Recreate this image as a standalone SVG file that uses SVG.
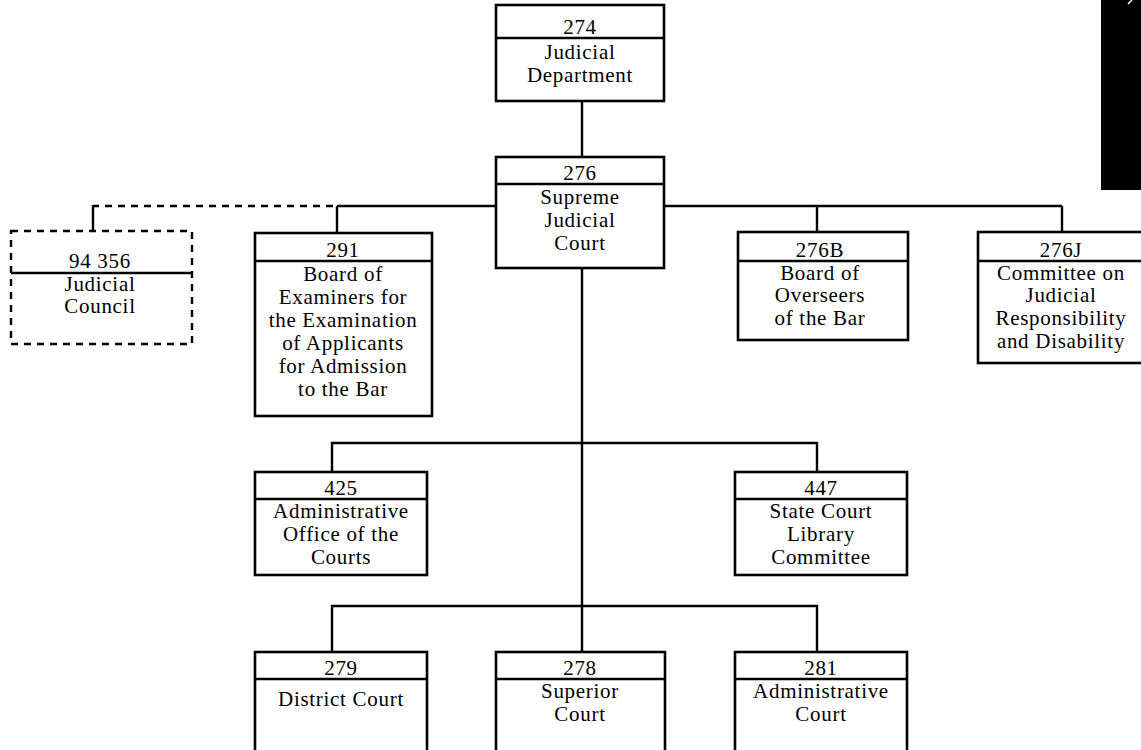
<svg xmlns="http://www.w3.org/2000/svg" width="1141" height="750" viewBox="0 0 1141 750">
<style>
.box{fill:#fff;stroke:#000;stroke-width:2.6}
.dbox{fill:#fff;stroke:#000;stroke-width:2.4;stroke-dasharray:7 6}
.hd{stroke:#000;stroke-width:2.6}
.ln{fill:none;stroke:#000;stroke-width:2.4}
.dl{fill:none;stroke:#000;stroke-width:2.4;stroke-dasharray:7 6}
text{font-family:"Liberation Serif","Times New Roman",serif;font-size:21px;fill:#000;text-anchor:middle;letter-spacing:0.7px}
</style>
<rect width="1141" height="750" fill="#fff"/>
<rect x="1101" y="0" width="40" height="190" fill="#000"/>
<line x1="1128" y1="4" x2="1132" y2="0" stroke="#fff" stroke-width="1.5"/>
<g id="connectors">
<line class="ln" x1="582" y1="101" x2="582" y2="157"/>
<line class="ln" x1="337" y1="206" x2="1062" y2="206"/>
<line class="ln" x1="337" y1="206" x2="337" y2="233"/>
<path class="dl" d="M333 206 H93"/>
<line class="ln" x1="93" y1="205" x2="93" y2="231"/>
<line class="ln" x1="817" y1="206" x2="817" y2="232"/>
<line class="ln" x1="1062" y1="206" x2="1062" y2="232"/>
<line class="ln" x1="582" y1="268" x2="582" y2="652"/>
<path class="ln" d="M332 472 V443 H817 V472"/>
<path class="ln" d="M332 652 V606 H817 V652"/>
</g>
<g id="n274">
<rect class="box" x="496" y="5" width="168" height="96"/>
<line class="hd" x1="496" y1="38" x2="664" y2="38"/>
<text x="580" y="34">274</text>
<text x="580" y="59">Judicial</text>
<text x="580" y="82">Department</text>
</g>
<g id="n276">
<rect class="box" x="496" y="157" width="168" height="111"/>
<line class="hd" x1="496" y1="184" x2="664" y2="184"/>
<text x="580" y="180">276</text>
<text x="580" y="204">Supreme</text>
<text x="580" y="227">Judicial</text>
<text x="580" y="250">Court</text>
</g>
<g id="n94356">
<rect class="dbox" x="11" y="231" width="181" height="113"/>
<line class="hd" x1="11" y1="273" x2="192" y2="273"/>
<text x="100" y="268">94 356</text>
<text x="100" y="291">Judicial</text>
<text x="100" y="313">Council</text>
</g>
<g id="n291">
<rect class="box" x="255" y="233" width="177" height="183"/>
<line class="hd" x1="255" y1="261" x2="432" y2="261"/>
<text x="343" y="257">291</text>
<text x="343" y="281">Board of</text>
<text x="343" y="304">Examiners for</text>
<text x="343" y="327">the Examination</text>
<text x="343" y="350">of Applicants</text>
<text x="343" y="373">for Admission</text>
<text x="343" y="396">to the Bar</text>
</g>
<g id="n276B">
<rect class="box" x="738" y="232" width="170" height="108"/>
<line class="hd" x1="738" y1="261" x2="908" y2="261"/>
<text x="820" y="257">276B</text>
<text x="820" y="280">Board of</text>
<text x="820" y="302">Overseers</text>
<text x="820" y="325">of the Bar</text>
</g>
<g id="n276J">
<rect class="box" x="978" y="232" width="170" height="131"/>
<line class="hd" x1="978" y1="261" x2="1141" y2="261"/>
<text x="1061" y="257">276J</text>
<text x="1061" y="280">Committee on</text>
<text x="1061" y="302">Judicial</text>
<text x="1061" y="325">Responsibility</text>
<text x="1061" y="348">and Disability</text>
</g>
<g id="n425">
<rect class="box" x="255" y="472" width="172" height="103"/>
<line class="hd" x1="255" y1="499" x2="427" y2="499"/>
<text x="341" y="495">425</text>
<text x="341" y="518">Administrative</text>
<text x="341" y="541">Office of the</text>
<text x="341" y="564">Courts</text>
</g>
<g id="n447">
<rect class="box" x="735" y="472" width="172" height="103"/>
<line class="hd" x1="735" y1="499" x2="907" y2="499"/>
<text x="821" y="495">447</text>
<text x="821" y="518">State Court</text>
<text x="821" y="541">Library</text>
<text x="821" y="564">Committee</text>
</g>
<g id="n279">
<rect class="box" x="255" y="652" width="172" height="110"/>
<line class="hd" x1="255" y1="679" x2="427" y2="679"/>
<text x="341" y="675">279</text>
<text x="341" y="706">District Court</text>
</g>
<g id="n278">
<rect class="box" x="496" y="652" width="169" height="110"/>
<line class="hd" x1="496" y1="679" x2="665" y2="679"/>
<text x="580" y="675">278</text>
<text x="580" y="698">Superior</text>
<text x="580" y="721">Court</text>
</g>
<g id="n281">
<rect class="box" x="735" y="652" width="172" height="110"/>
<line class="hd" x1="735" y1="679" x2="907" y2="679"/>
<text x="821" y="675">281</text>
<text x="821" y="698">Administrative</text>
<text x="821" y="721">Court</text>
</g>
</svg>
